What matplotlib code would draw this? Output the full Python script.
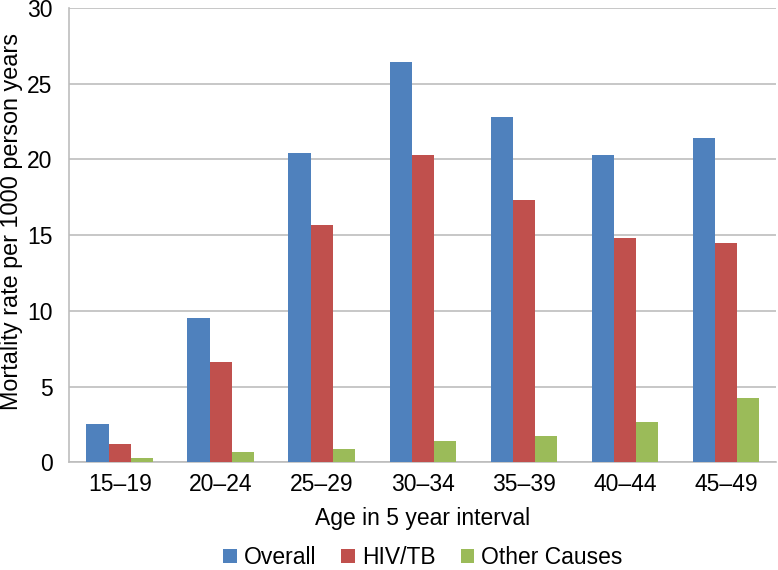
import matplotlib.pyplot as plt
import numpy as np

plt.rcParams['font.family'] = ['Liberation Sans', 'DejaVu Sans']

# Dane
grupy_wiekowe = ["15–19", "20–24", "25–29", "30–34", "35–39", "40–44", "45–49"]
overall = [2.5, 9.5, 20.4, 26.4, 22.8, 20.3, 21.4]
hiv_tb = [1.2, 6.6, 15.7, 20.3, 17.3, 14.8, 14.5]
other_causes = [0.25, 0.65, 0.9, 1.4, 1.75, 2.65, 4.25]

serie = ["Overall", "HIV/TB", "Other Causes"]
kolory = ["#4F81BD", "#C0504D", "#9BBB59"]

fs = 16.5

fig = plt.figure(figsize=(7.78, 5.7), dpi=100)
ax = fig.add_axes([0.089, 0.189, 0.909, 0.797])

x = np.arange(len(grupy_wiekowe))
szer = 0.22
for i, (wartosci, nazwa, kolor) in enumerate(zip([overall, hiv_tb, other_causes], serie, kolory)):
    ax.bar(x + (i - 1) * szer, wartosci, szer, color=kolor, label=nazwa, zorder=3)

ax.set_xlim(-0.5, len(grupy_wiekowe) - 0.5)
ax.set_ylim(0, 30)
ax.set_yticks(range(0, 31, 5))
ax.set_xticks(x)
ax.set_xticklabels(grupy_wiekowe)
ax.tick_params(axis='both', length=0, labelsize=fs)
ax.tick_params(axis='x', pad=8)
ax.tick_params(axis='y', pad=12)
ax.grid(axis='y', color='#BDBDBD', linewidth=1.2, zorder=0)

for s in ['top', 'right']:
    ax.spines[s].set_visible(False)
for s in ['left', 'bottom']:
    ax.spines[s].set_color('#BDBDBD')
    ax.spines[s].set_linewidth(1.2)

ax.set_xlabel("Age in 5 year interval", fontsize=fs, labelpad=8)
ax.set_ylabel("Mortality rate per 1000 person years", fontsize=16.8)
ax.yaxis.set_label_coords(-0.066, 0.529)

ax.legend(loc='center', bbox_to_anchor=(0.5, -0.21), ncol=3, frameon=False,
          fontsize=fs, handlelength=0.6, handleheight=0.6, handletextpad=0.3, columnspacing=1.1)

fig.savefig("out.png", dpi=100)
